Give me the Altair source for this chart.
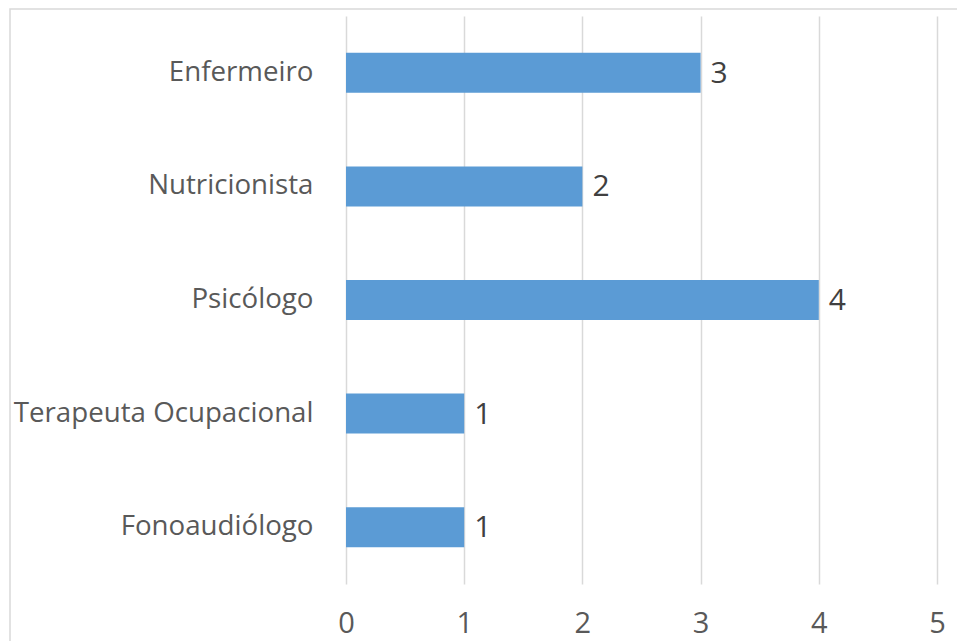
import altair as alt
import pandas as pd

categories = ["Enfermeiro", "Nutricionista", "Psicólogo", "Terapeuta Ocupacional", "Fonoaudiólogo"]
values = [3, 2, 4, 1, 1]
x_ticks = [0, 1, 2, 3, 4, 5]

df = pd.DataFrame({"cat": categories, "val": values})

W, H = 591, 568
FONT = "Open Sans"

y_enc = alt.Y("cat:N", sort=categories, title=None,
              scale=alt.Scale(paddingInner=0.648, paddingOuter=0.324),
              axis=alt.Axis(ticks=False, domain=False, grid=False, labelPadding=33,
                            labelFont=FONT, labelFontSize=27.7, labelColor="#595959", labelLimit=400))
x_enc = alt.X("val:Q", title=None,
              scale=alt.Scale(domain=[0, 5], nice=False),
              axis=alt.Axis(values=x_ticks, ticks=False, domain=False, grid=True,
                            gridColor="#D9D9D9", gridWidth=1.5, labelPadding=25, labelFlush=False,
                            labelFont=FONT, labelFontSize=29, labelColor="#595959", format="d"))

bars = alt.Chart(df).mark_bar(color="#5B9BD5").encode(x=x_enc, y=y_enc)
labels = alt.Chart(df).mark_text(align="left", baseline="middle", dx=10, dy=1,
                                 font=FONT, fontSize=30, color="#404040").encode(
    x="val:Q", y=alt.Y("cat:N", sort=categories), text="val:Q")

border = alt.Chart(pd.DataFrame({"a": [0]})).mark_rect(
    fill=None, stroke="#D9D9D9", strokeWidth=1.5).encode(
    x=alt.value(-336), x2=alt.value(W + 60), y=alt.value(-7), y2=alt.value(H + 80))

chart = alt.layer(border, bars, labels).properties(
    width=W, height=H,
    background="white",
    autosize=alt.AutoSizeParams(type="none"),
    padding={"left": 346, "top": 16, "right": 20, "bottom": 57},
).configure_view(strokeWidth=0, stroke="transparent")

chart.save("out.html", embed_options={"renderer": "svg", "actions": False})
